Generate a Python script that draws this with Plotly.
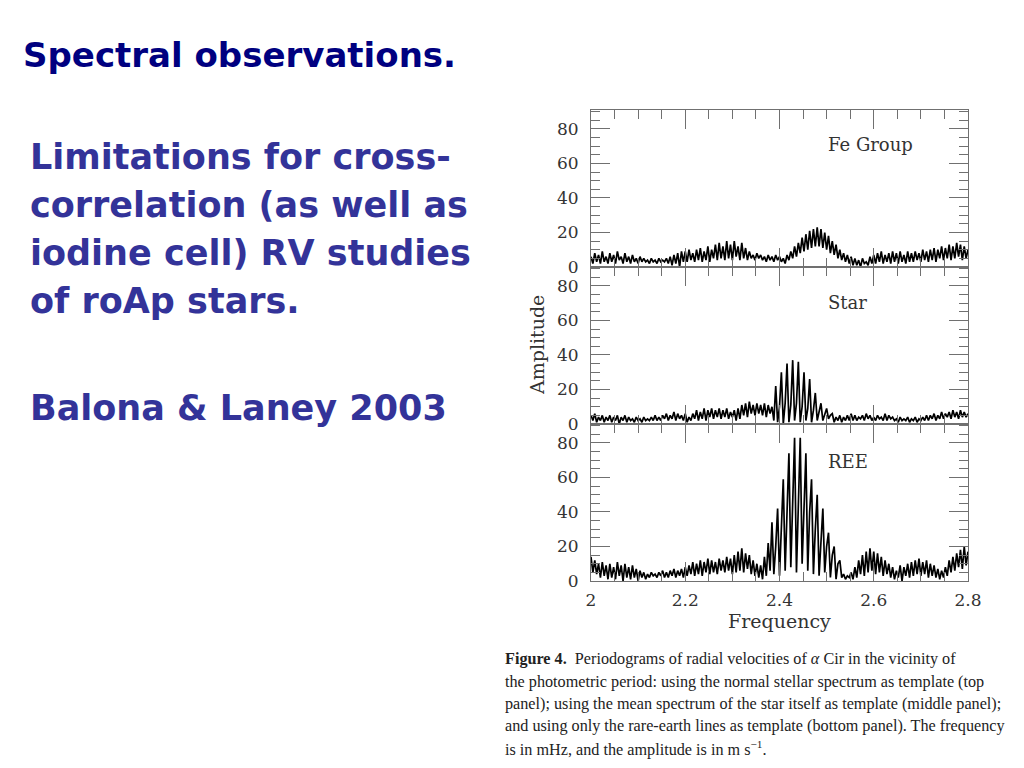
import numpy as np
import plotly.graph_objects as go

# Frequency grid (mHz), 2.000 .. 2.800 in steps of 0.004
freq = np.round(2.0 + 0.004 * np.arange(201), 3)

# Amplitudes (m/s)
amp_fe = [
    6,2,8,3,7,2,9,3,6,2,
    8,3,7,2,9,4,6,2,8,3,
    6,2,7,3,5,2,6,3,5,3,
    4,2,5,3,4,2,5,3,4,3,
    5,2,6,1,7,2,8,0,9,3,
    9,3,10,4,8,3,10,4,11,3,
    9,4,12,3,10,5,13,4,14,5,
    12,4,15,5,13,4,15,6,12,4,
    14,5,11,4,9,5,7,4,8,5,
    7,4,6,3,7,4,6,3,7,4,
    6,3,5,2,7,4,9,5,12,6,
    14,8,17,9,19,10,21,11,22,12,
    23,12,22,11,20,10,18,8,15,7,
    13,5,10,4,8,3,7,2,6,1,
    5,1,4,0,5,2,3,1,6,2,
    7,2,8,3,9,2,7,3,8,2,
    9,3,8,2,9,3,7,2,9,3,
    8,3,9,4,8,3,10,4,9,3,
    10,4,11,3,10,5,12,4,11,5,
    13,4,12,5,14,6,13,4,12,5,10,
]
amp_star = [
    5,2,6,1,4,2,5,1,4,2,
    5,1,4,2,5,0,4,2,5,1,
    4,2,3,1,4,2,3,1,4,2,
    3,2,4,2,5,2,4,2,5,3,
    6,2,5,3,7,2,6,3,5,2,
    6,1,4,2,6,3,8,2,7,3,
    9,2,8,4,9,3,8,4,9,3,
    8,4,9,3,7,4,8,2,9,3,
    11,5,12,4,13,6,11,5,12,6,
    11,5,12,4,11,6,10,2,22,1,
    10,30,0,12,35,1,11,37,2,12,
    36,1,10,30,2,9,26,1,8,18,
    2,7,12,2,6,9,3,5,6,1,
    4,2,5,1,4,2,5,2,6,2,
    5,2,4,3,5,2,6,3,5,2,
    4,2,5,3,4,2,6,2,5,3,
    4,2,3,1,4,2,3,2,4,1,
    3,2,4,1,3,2,4,2,5,2,
    5,3,6,2,5,3,7,3,6,4,
    7,3,8,4,7,3,8,4,7,4,6,
]
amp_ree = [
    14,5,12,4,10,2,11,3,9,1,
    10,2,8,1,11,3,9,0,10,2,
    8,1,9,2,7,0,6,2,5,1,
    4,2,5,3,4,2,5,3,6,2,
    5,2,6,3,7,2,6,3,7,2,
    8,3,9,4,11,3,10,4,12,3,
    11,5,13,4,12,5,11,4,13,6,
    12,5,14,6,13,4,15,5,17,6,
    19,5,16,7,15,4,12,3,10,2,
    9,1,14,3,22,6,34,4,20,42,
    3,28,59,6,35,74,8,45,83,5,
    48,83,10,45,74,6,40,59,4,30,
    50,3,25,42,5,20,28,2,15,20,
    1,10,12,2,4,1,3,2,5,1,
    8,2,12,4,15,3,17,5,19,6,
    17,4,16,5,14,3,12,4,10,2,
    8,1,6,2,9,0,8,3,10,2,
    11,3,12,4,13,3,11,4,12,2,
    10,3,9,2,7,1,6,2,8,3,
    12,5,14,6,16,8,18,7,20,9,17,
]
panel_names = ["Fe Group", "Star", "REE"]
x_ticks = [2, 2.2, 2.4, 2.6, 2.8]
y_ticks = [0, 20, 40, 60, 80]

assert len(amp_fe) == 201 and len(amp_star) == 201 and len(amp_ree) == 201, (len(amp_fe), len(amp_star), len(amp_ree))

# The page has an 8px body margin; size the figure to fit inside the window.
PAGE_OFF = 8
W, H = 1024 - 2 * PAGE_OFF, 768 - 2 * PAGE_OFF
def px(x):
    return (x - PAGE_OFF) / W
def py(y):
    return 1 - (y - PAGE_OFF) / H

x0, x1 = 591, 968
tops = [110, 267, 424]
ph = 157

fig = go.Figure()
series = [amp_fe, amp_star, amp_ree]
axis_font = dict(family="DejaVu Serif", size=17, color="#333333")
frame_col = "#707070"

for k in range(3):
    xa = "x" if k == 0 else f"x{k+1}"
    ya = "y" if k == 0 else f"y{k+1}"
    fig.add_trace(go.Scatter(x=freq, y=series[k], mode="lines",
                             line=dict(color="black", width=1.7),
                             xaxis=xa, yaxis=ya, showlegend=False,
                             hoverinfo="skip"))
    top, bot = tops[k], tops[k] + ph
    xkey = "xaxis" if k == 0 else f"xaxis{k+1}"
    ykey = "yaxis" if k == 0 else f"yaxis{k+1}"
    fig.layout[xkey] = dict(
        domain=[px(x0), px(x1)], range=[2, 2.8], anchor=ya, automargin=False,
        tickvals=x_ticks, ticktext=[str(v) for v in x_ticks],
        ticks="inside", ticklen=19, tickcolor=frame_col, tickwidth=1,
        minor=dict(dtick=0.05, tick0=2, ticks="inside", ticklen=9,
                   tickcolor=frame_col, tickwidth=1, showgrid=False),
        showline=True, linecolor=frame_col, linewidth=1, mirror="ticks",
        showgrid=False, zeroline=False,
        showticklabels=(k == 2), tickfont=axis_font, ticklabelstandoff=4,
    )
    fig.layout[ykey] = dict(
        domain=[py(bot), py(top)], range=[0, 91], anchor=xa, automargin=False,
        tickvals=y_ticks, ticktext=[str(v) for v in y_ticks],
        ticks="inside", ticklen=19, tickcolor=frame_col, tickwidth=1,
        minor=dict(dtick=5, tick0=0, ticks="inside", ticklen=9,
                   tickcolor=frame_col, tickwidth=1, showgrid=False),
        showline=True, linecolor=frame_col, linewidth=1, mirror="ticks",
        showgrid=False, zeroline=False,
        tickfont=axis_font, ticklabelstandoff=8,
    )

annotations = []
label_ys = [145, 302, 461]
for k in range(3):
    annotations.append(dict(x=px(826), y=py(label_ys[k]), xref="paper", yref="paper",
                            text=panel_names[k], showarrow=False, xanchor="left", align="left",
                            yanchor="middle", font=dict(family="DejaVu Serif", size=18, color="#333333")))
annotations.append(dict(x=px(779), y=py(621), xref="paper", yref="paper", text="Frequency",
                        showarrow=False, xanchor="center", yanchor="middle",
                        font=dict(family="DejaVu Serif", size=19, color="#333333")))
annotations.append(dict(x=px(537), y=py(345), xref="paper", yref="paper", text="Amplitude",
                        showarrow=False, xanchor="center", yanchor="middle", textangle=-90,
                        font=dict(family="DejaVu Serif", size=19, color="#333333")))

# Slide text
annotations.append(dict(x=px(21), y=py(55), xref="paper", yref="paper",
                        text="<b>Spectral observations.</b>", showarrow=False,
                        xanchor="left", align="left", yanchor="middle",
                        font=dict(family="DejaVu Sans", size=34, color="#000080")))
body = ["Limitations for cross-", "correlation (as well as", "iodine cell) RV studies", "of roAp stars."]
body_y = [157, 205, 253, 301]
for t, yy in zip(body, body_y):
    annotations.append(dict(x=px(28), y=py(yy), xref="paper", yref="paper",
                            text=f"<b>{t}</b>", showarrow=False, xanchor="left", align="left",
                            yanchor="middle",
                            font=dict(family="DejaVu Sans", size=35, color="#333399")))
annotations.append(dict(x=px(28), y=py(408), xref="paper", yref="paper",
                        text="<b>Balona &amp; Laney 2003</b>", showarrow=False, xanchor="left",
                        align="left", yanchor="middle",
                        font=dict(family="DejaVu Sans", size=35, color="#333399")))

caption = [
    "<b>Figure 4.</b>  Periodograms of radial velocities of <i>α</i> Cir in the vicinity of",
    "the photometric period: using the normal stellar spectrum as template (top",
    "panel); using the mean spectrum of the star itself as template (middle panel);",
    "and using only the rare-earth lines as template (bottom panel). The frequency",
    "is in mHz, and the amplitude is in m s<sup>−1</sup>.",
]
cap_y = [659, 682, 704, 726, 748]
for t, yy in zip(caption, cap_y):
    annotations.append(dict(x=px(503), y=py(yy), xref="paper", yref="paper",
                            text=t, showarrow=False, xanchor="left", align="left", yanchor="middle",
                            font=dict(family="Liberation Serif", size=16.2, color="#222222")))

fig.update_layout(width=W, height=H, margin=dict(l=0, r=0, t=0, b=0),
                  paper_bgcolor="white", plot_bgcolor="white",
                  annotations=annotations)

fig.write_html("out.html")
